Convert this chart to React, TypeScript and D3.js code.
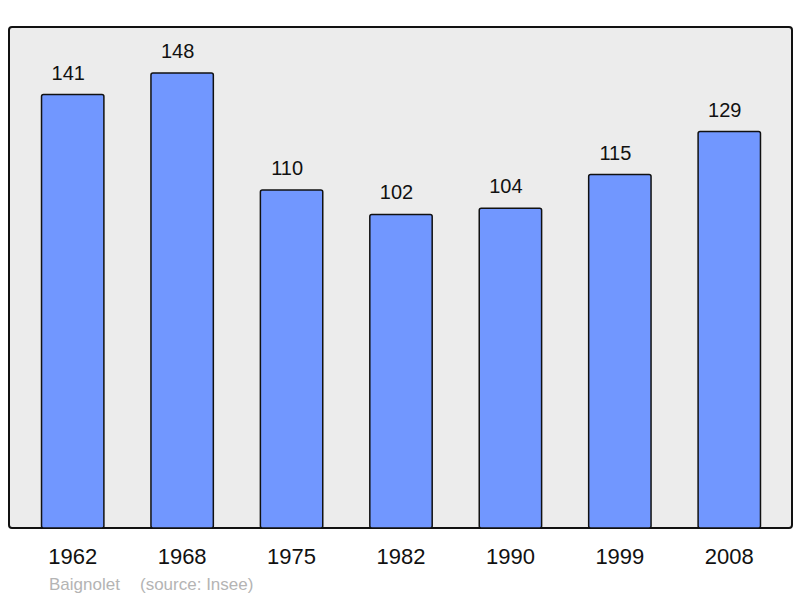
import * as d3 from "d3";

const years = ["1962", "1968", "1975", "1982", "1990", "1999", "2008"];
const population = [141, 148, 110, 102, 104, 115, 129];
const townName = "Baignolet";
const sourceText = "(source: Insee)";

const W = 800;
const H = 598;
const panel = { left: 9, top: 27, right: 792, bottom: 528 };

export default function App() {
  const x = d3
    .scaleBand<string>()
    .domain(years)
    .range([18, 784])
    .paddingInner(0.43)
    .paddingOuter(0.215);

  const y = d3.scaleLinear().domain([0, 163]).range([panel.bottom, panel.top]);

  const font = "'Liberation Sans', Arial, sans-serif";
  const mid = (yr: string) => (x(yr) ?? 0) + x.bandwidth() / 2;

  return (
    <svg
      width={W}
      height={H}
      style={{ position: "absolute", left: 0, top: 0 }}
      fontFamily={font}
    >
      <rect width={W} height={H} fill="white" />
      <rect
        x={panel.left}
        y={panel.top}
        width={panel.right - panel.left}
        height={panel.bottom - panel.top}
        rx={3}
        fill="#ececec"
        stroke="#111"
        strokeWidth={2}
      />
      {years.map((yr, i) => (
        <g key={yr}>
          <rect
            x={x(yr)}
            y={y(population[i])}
            width={x.bandwidth()}
            height={panel.bottom - y(population[i])}
            rx={2}
            fill="#7197ff"
            stroke="#111"
            strokeWidth={1.5}
          />
          {/* value labels sit a little left of the bar centre */}
          <text
            x={mid(yr) - 4.5}
            y={y(population[i]) - 15}
            textAnchor="middle"
            fontSize={20}
            fill="#111"
          >
            {population[i]}
          </text>
          <text
            x={mid(yr)}
            y={564}
            textAnchor="middle"
            fontSize={22}
            fill="#111"
          >
            {yr}
          </text>
        </g>
      ))}
      <text x={49} y={590} fontSize={17} fill="#b4b4b4">
        {townName}
      </text>
      <text x={140} y={590} fontSize={17} fill="#b4b4b4">
        {sourceText}
      </text>
    </svg>
  );
}
